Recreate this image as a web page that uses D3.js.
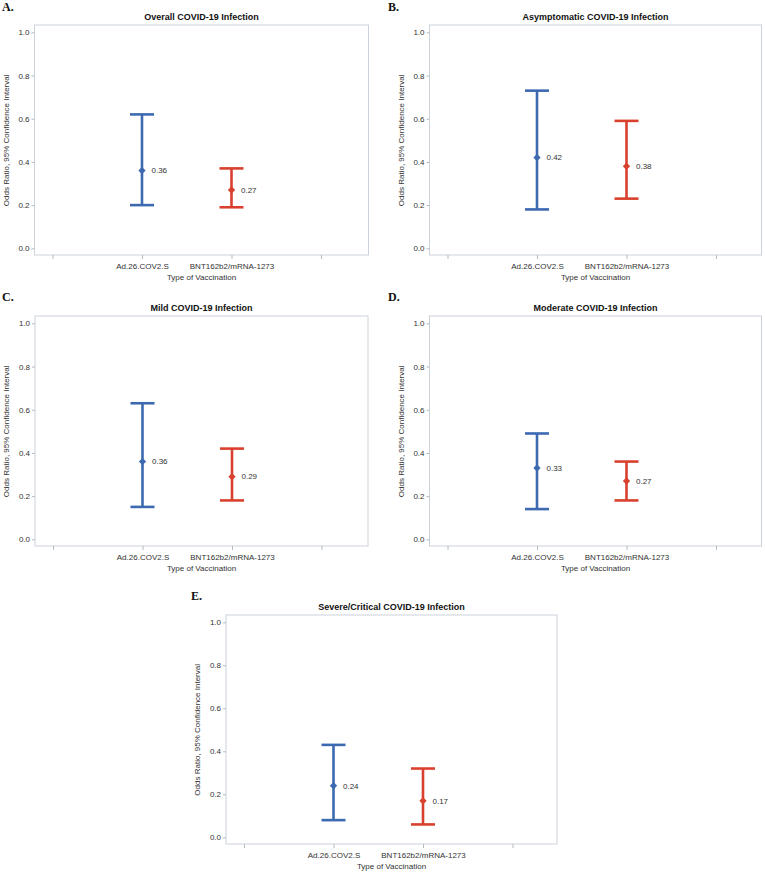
<!DOCTYPE html>
<html>
<head>
<meta charset="utf-8">
<script src="https://cdn.jsdelivr.net/npm/d3@7/dist/d3.min.js"></script>
<style>
  html, body { margin: 0; padding: 0; background: #fff; }
  svg { display: block; }
</style>
</head>
<body>
<svg id="chart" width="765" height="873"></svg>
<script>
// ---- data ----
const categories = ["Ad.26.COV2.S", "BNT162b2/mRNA-1273"];
const panelLetters = ["A.", "B.", "C.", "D.", "E."];
const panelTitles = [
  "Overall COVID-19 Infection",
  "Asymptomatic COVID-19 Infection",
  "Mild COVID-19 Infection",
  "Moderate COVID-19 Infection",
  "Severe/Critical COVID-19 Infection"
];
// odds ratio estimates per panel [Ad26, BNT]
const oddsRatio = [[0.36, 0.27], [0.42, 0.38], [0.36, 0.29], [0.33, 0.27], [0.24, 0.17]];
const lowerCI   = [[0.20, 0.19], [0.18, 0.23], [0.15, 0.18], [0.14, 0.18], [0.08, 0.06]];
const upperCI   = [[0.62, 0.37], [0.73, 0.59], [0.63, 0.42], [0.49, 0.36], [0.43, 0.32]];
const yTicks = [0.0, 0.2, 0.4, 0.6, 0.8, 1.0];
const yAxisTitle = "Odds Ratio, 95% Confidence Interval";
const xAxisTitle = "Type of Vaccination";

// ---- layout ----
const layouts = [
  { left: 34.5, top: 25,  w: 334, h: 230, lx: 2,   ly: 10.5 },
  { left: 429.5, top: 25, w: 332, h: 230, lx: 388, ly: 10.5 },
  { left: 35,   top: 316, w: 333, h: 230, lx: 2,   ly: 301 },
  { left: 429.5, top: 316, w: 332, h: 230, lx: 388, ly: 301 },
  { left: 226,  top: 615, w: 331, h: 229, lx: 191, ly: 600 }
];
const colors = ["#3d69b1", "#d9412e"];
const frameColor = "#ccd2d9";
const tickColor = "#b5bbc2";
const textColor = "#333";
const sans = "'Liberation Sans', Arial, sans-serif";
const serif = "'Liberation Serif', 'Times New Roman', serif";

const svg = d3.select("#chart");

panelTitles.forEach((title, i) => {
  const L = layouts[i];
  const g = svg.append("g").style("font-family", sans);
  const bottom = L.top + L.h;

  const y = d3.scaleLinear().domain([-0.031, 1.034]).range([bottom, L.top]);
  const xDomain = ["_pad1", ...categories, "_pad2"];
  const x = d3.scalePoint().domain(xDomain).range([L.left + 18, L.left + 286.5]);

  // panel letter
  g.append("text").attr("x", L.lx).attr("y", L.ly)
    .style("font-family", serif)
    .attr("font-weight", "bold").attr("font-size", 12).attr("fill", "#111")
    .text(panelLetters[i]);

  // title
  g.append("text").attr("x", L.left + L.w / 2).attr("y", L.top - 5.5)
    .attr("text-anchor", "middle").attr("font-weight", "bold")
    .attr("font-size", 9).attr("fill", "#111").text(title);

  // frame
  g.append("rect").attr("x", L.left).attr("y", L.top)
    .attr("width", L.w).attr("height", L.h)
    .attr("fill", "none").attr("stroke", frameColor).attr("stroke-width", 1);

  // y axis
  const yAxis = d3.axisLeft(y).tickValues(yTicks).tickFormat(d3.format(".1f"))
    .tickSize(3).tickPadding(2);
  const ya = g.append("g").attr("transform", `translate(${L.left},0)`).call(yAxis);
  ya.attr("font-family", null);
  ya.select(".domain").remove();
  ya.selectAll("line").attr("stroke", tickColor);
  ya.selectAll("text").attr("font-size", 8).attr("fill", textColor);

  // x axis
  const xAxis = d3.axisBottom(x).tickSize(4).tickPadding(4)
    .tickFormat(d => d.startsWith("_pad") ? "" : d);
  const xa = g.append("g").attr("transform", `translate(0,${bottom})`).call(xAxis);
  xa.attr("font-family", null);
  xa.select(".domain").remove();
  xa.selectAll("line").attr("stroke", tickColor);
  xa.selectAll("text").attr("font-size", 8).attr("fill", textColor)
    .attr("dy", "0.8em");

  // axis titles
  g.append("text").attr("x", L.left + L.w / 2).attr("y", bottom + 24.5)
    .attr("text-anchor", "middle").attr("font-size", 8).attr("fill", textColor)
    .text(xAxisTitle);
  const yMid = (y(0) + y(1)) / 2;
  g.append("text")
    .attr("transform", `translate(${L.left - 26},${yMid}) rotate(-90)`)
    .attr("text-anchor", "middle").attr("font-size", 8).attr("fill", textColor)
    .text(yAxisTitle);

  // error bars
  const capHalf = 12;
  categories.forEach((cat, j) => {
    const cx = x(cat);
    const col = colors[j];
    const lo = lowerCI[i][j], hi = upperCI[i][j], est = oddsRatio[i][j];
    const eb = g.append("g").attr("stroke", col).attr("stroke-width", 2.6).attr("fill", "none");
    eb.append("line").attr("x1", cx).attr("x2", cx).attr("y1", y(hi)).attr("y2", y(lo));
    eb.append("line").attr("x1", cx - capHalf).attr("x2", cx + capHalf).attr("y1", y(hi)).attr("y2", y(hi));
    eb.append("line").attr("x1", cx - capHalf).attr("x2", cx + capHalf).attr("y1", y(lo)).attr("y2", y(lo));
    g.append("path")
      .attr("d", d3.symbol().type(d3.symbolDiamond2).size(34)())
      .attr("transform", `translate(${cx},${y(est)})`)
      .attr("fill", col);
    g.append("text").attr("x", cx + 9.5).attr("y", y(est))
      .attr("dy", "0.35em").attr("font-size", 8).attr("fill", textColor)
      .text(est.toFixed(2));
  });
});
</script>
</body>
</html>
